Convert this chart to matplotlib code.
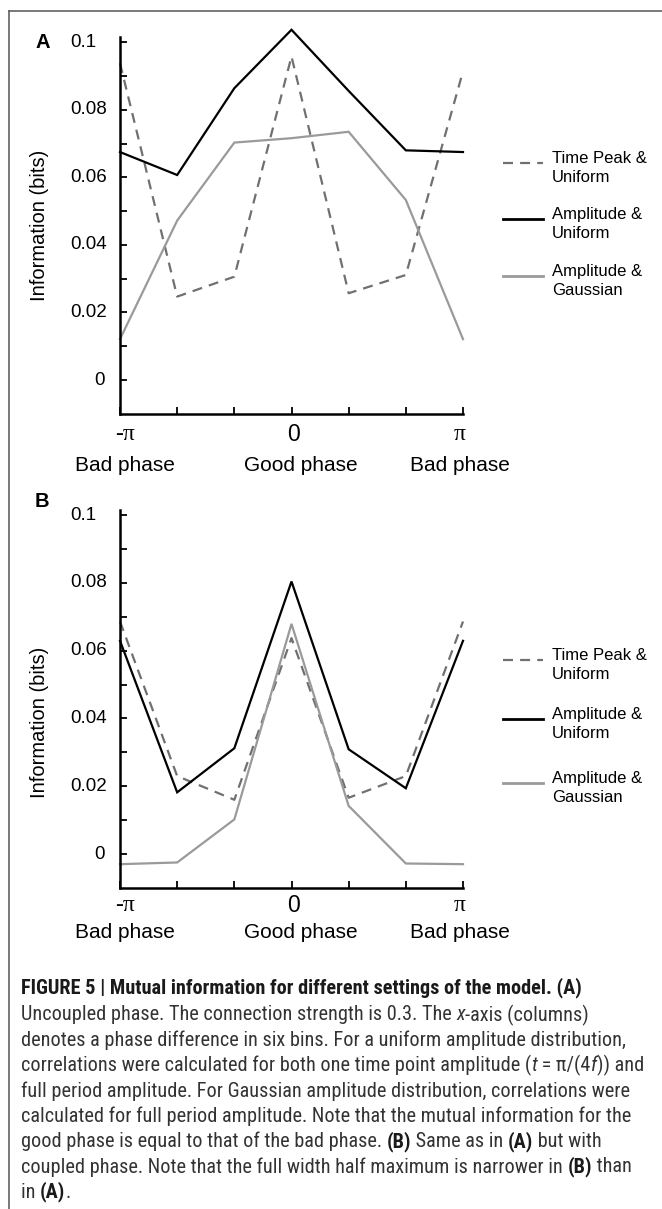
import matplotlib
matplotlib.use('Agg')
import matplotlib.pyplot as plt
import numpy as np
from matplotlib import font_manager
from matplotlib.font_manager import FontProperties
from matplotlib.lines import Line2D

# ---------------- data ----------------
phase_ticks = np.linspace(-np.pi, np.pi, 7)
x_label_pos = [-np.pi, 0.0, np.pi]
x_labels = ['-\u03c0', '0', '\u03c0']
phase_names = ['Bad phase', 'Good phase', 'Bad phase']
y_major = [0.0, 0.02, 0.04, 0.06, 0.08, 0.1]
y_major_labels = ['0', '0.02', '0.04', '0.06', '0.08', '0.1']
y_minor = [0.01, 0.03, 0.05, 0.07, 0.09]
series_names = [('Time Peak &', 'Uniform'), ('Amplitude &', 'Uniform'), ('Amplitude &', 'Gaussian')]

a_time_peak = [0.0938, 0.0247, 0.0306, 0.0958, 0.0257, 0.0311, 0.0914]
a_amp_uniform = [0.0675, 0.0607, 0.0864, 0.1037, 0.0856, 0.0680, 0.0675]
a_amp_gauss = [0.0121, 0.0472, 0.0703, 0.0716, 0.0735, 0.0533, 0.0121]

b_time_peak = [0.0686, 0.0230, 0.0160, 0.0637, 0.0166, 0.0230, 0.0686]
b_amp_uniform = [0.0629, 0.0182, 0.0312, 0.0804, 0.0309, 0.0194, 0.0629]
b_amp_gauss = [-0.0030, -0.0025, 0.0102, 0.0679, 0.0142, -0.0028, -0.0030]

# ---------------- styles ----------------
W, H, DPI = 662, 1209, 100
SANS = ['Liberation Sans', 'DejaVu Sans']
SERIF = ['Liberation Serif', 'DejaVu Serif']
styles = [dict(color='#707070', lw=1.6, ls=(0, (4.5, 3.2))),
          dict(color='#000000', lw=1.6, ls='-'),
          dict(color='#9a9a9a', lw=1.6, ls='-')]

plt.rcParams['font.family'] = SANS

fig = plt.figure(figsize=(W / DPI, H / DPI), dpi=DPI)
fig.patch.set_facecolor('white')


def fx(px):
    return px / W


def fy(py):
    return 1 - py / H


# frame lines
fig.add_artist(Line2D([fx(9), fx(9)], [fy(11), fy(1215)], color='#555555', lw=1.1))
fig.add_artist(Line2D([fx(9), fx(670)], [fy(11), fy(11)], color='#555555', lw=1.1))


def make_panel(rect_px, data, letter, letter_y, ylabel_y, legend_ys, xl_dy, name_dy):
    left, top, right, bottom = rect_px
    ax = fig.add_axes([fx(left), fy(bottom), (right - left) / W, (bottom - top) / H])
    for vals, st in zip(data, styles):
        ax.plot(phase_ticks, vals, color=st['color'], lw=st['lw'], ls=st['ls'],
                solid_joinstyle='miter', clip_on=False)
    ax.set_xlim(-np.pi, np.pi)
    ax.set_ylim(-0.01, 0.1015)
    for s in ['top', 'right']:
        ax.spines[s].set_visible(False)
    for s in ['left', 'bottom']:
        ax.spines[s].set_linewidth(1.8)
        ax.spines[s].set_color('black')
    ax.set_xticks(phase_ticks)
    ax.set_yticks(y_major)
    ax.set_yticks(y_minor, minor=True)
    ax.tick_params(axis='both', which='both', direction='in', length=5, width=1.3,
                   labelleft=False, labelbottom=False)
    ax.patch.set_alpha(0)

    # y tick labels
    for v, lab in zip(y_major, y_major_labels):
        if lab == '0':
            ax.annotate(lab, xy=(0, v), xycoords=('axes fraction', 'data'),
                        xytext=(-15, 0), textcoords='offset pixels',
                        ha='right', va='center', fontsize=13.5, family=SANS)
        else:
            ax.annotate(lab, xy=(0, v), xycoords=('axes fraction', 'data'),
                        xytext=(-50, 0), textcoords='offset pixels',
                        ha='left', va='center', fontsize=13.5, family=SANS)
    # x tick labels
    offs = [5, 2, -3]
    for xv, lab, dx in zip(x_label_pos, x_labels, offs):
        ax.annotate(lab, xy=(xv, 0), xycoords=('data', 'axes fraction'),
                    xytext=(dx, -xl_dy), textcoords='offset pixels',
                    ha='center', va='center',
                    fontsize=17 if lab != '0' else 16.5,
                    family=SERIF if lab != '0' else SANS)
    name_dx = [5, 9, -3]
    for xv, lab, dx in zip(x_label_pos, phase_names, name_dx):
        ax.annotate(lab, xy=(xv, 0), xycoords=('data', 'axes fraction'),
                    xytext=(dx, -name_dy), textcoords='offset pixels',
                    ha='center', va='center', fontsize=15, family=SANS)
    # panel letter
    fig.text(fx(35), fy(letter_y), letter, fontsize=14.5, fontweight='bold',
             ha='left', va='center', family=SANS)
    # y label
    fig.text(fx(39.5), fy(ylabel_y), 'Information (bits)', rotation=90,
             fontsize=14.5, ha='center', va='center', family=SANS)
    # legend
    for (l1, l2), st, ly in zip(series_names, styles, legend_ys):
        fig.add_artist(Line2D([fx(503), fx(543)], [fy(ly), fy(ly)], color=st['color'],
                              lw=2.0 if st['ls'] == '-' else 1.6, ls=st['ls']))
        fig.text(fx(552), fy(ly), l1, fontsize=12, ha='left', va='baseline', family=SANS)
        fig.text(fx(552), fy(ly + 19), l2, fontsize=12, ha='left', va='baseline', family=SANS)
    return ax


make_panel((120, 37.2, 463, 413.8), [a_time_peak, a_amp_uniform, a_amp_gauss],
           'A', 43, 225, [163, 219, 276], 21, 52)
make_panel((120, 510, 463, 887.9), [b_time_peak, b_amp_uniform, b_amp_gauss],
           'B', 502, 722, [660, 719, 783], 18, 45)

# ---------------- caption ----------------
entries = font_manager.fontManager.ttflist
names = {f.name for f in entries}
prio = ['Liberation Sans Narrow', 'Roboto Condensed', 'Open Sans Condensed',
        'Noto Sans Condensed', 'Arial Narrow', 'Nimbus Sans Narrow', 'DejaVu Sans Condensed']
cap_family = None
cap_stretch = 'normal'
for n in prio:
    if n in names:
        cap_family = [n, 'DejaVu Sans']
        break
if cap_family is None:
    for f in entries:
        if f.name in ('Noto Sans', 'Roboto', 'Open Sans') and str(f.stretch) in ('condensed', 'semi-condensed'):
            cap_family = [f.name, 'DejaVu Sans']
            cap_stretch = f.stretch
            break
if cap_family is None:
    cond = sorted(n for n in names if ('Condensed' in n or 'Narrow' in n)
                  and 'Serif' not in n and 'Mono' not in n)
    if cond:
        cap_family = [cond[0], 'DejaVu Sans']
if cap_family is None:
    cap_family = ['Liberation Sans', 'DejaVu Sans']

caption = [
    [("FIGURE 5 | Mutual information for different settings of the model. (A)", 'bold', 'normal')],
    [("Uncoupled phase. The connection strength is 0.3. The ", 'normal', 'normal'),
     ("x", 'normal', 'italic'), ("-axis (columns)", 'normal', 'normal')],
    [("denotes a phase difference in six bins. For a uniform amplitude distribution,", 'normal', 'normal')],
    [("correlations were calculated for both one time point amplitude (", 'normal', 'normal'),
     ("t", 'normal', 'italic'), (" = \u03c0/(4", 'normal', 'normal'), ("f", 'normal', 'italic'),
     (")) and", 'normal', 'normal')],
    [("full period amplitude. For Gaussian amplitude distribution, correlations were", 'normal', 'normal')],
    [("calculated for full period amplitude. Note that the mutual information for the", 'normal', 'normal')],
    [("good phase is equal to that of the bad phase. ", 'normal', 'normal'), ("(B)", 'bold', 'normal'),
     (" Same as in ", 'normal', 'normal'), ("(A)", 'bold', 'normal'), (" but with", 'normal', 'normal')],
    [("coupled phase. Note that the full width half maximum is narrower in ", 'normal', 'normal'),
     ("(B)", 'bold', 'normal'), (" than", 'normal', 'normal')],
    [("in ", 'normal', 'normal'), ("(A)", 'bold', 'normal'), (".", 'normal', 'normal')],
]
cap_y = [988, 1015, 1040, 1065.5, 1091, 1116, 1141.5, 1167, 1192]
cap_x0 = 21
target_w = 640 - cap_x0
fig.canvas.draw()
renderer = fig.canvas.get_renderer()


def mkprop(wgt, sty, size):
    return FontProperties(family=cap_family, weight=wgt, style=sty, size=size, stretch=cap_stretch)


def adv(s, prop):
    w1 = renderer.get_text_width_height_descent(s + '|', prop, ismath=False)[0]
    w0 = renderer.get_text_width_height_descent('|', prop, ismath=False)[0]
    return w1 - w0


def line_width(segs, size):
    tot = 0
    for s, wgt, sty in segs:
        tot += adv(s, mkprop(wgt, sty, size))
    return tot


base = 12.0
w = line_width(caption[3], base)
cap_size = base * target_w / w
cap_size = min(cap_size, 15.0)

for segs, yy in zip(caption, cap_y):
    x = cap_x0
    for s, wgt, sty in segs:
        p = mkprop(wgt, sty, cap_size)
        col = '#1a1a1a' if wgt == 'bold' else '#333333'
        fig.text(fx(x), fy(yy), s, fontproperties=p, ha='left', va='center', color=col)
        x += adv(s, p)

fig.savefig('out.png', dpi=DPI, facecolor='white')
